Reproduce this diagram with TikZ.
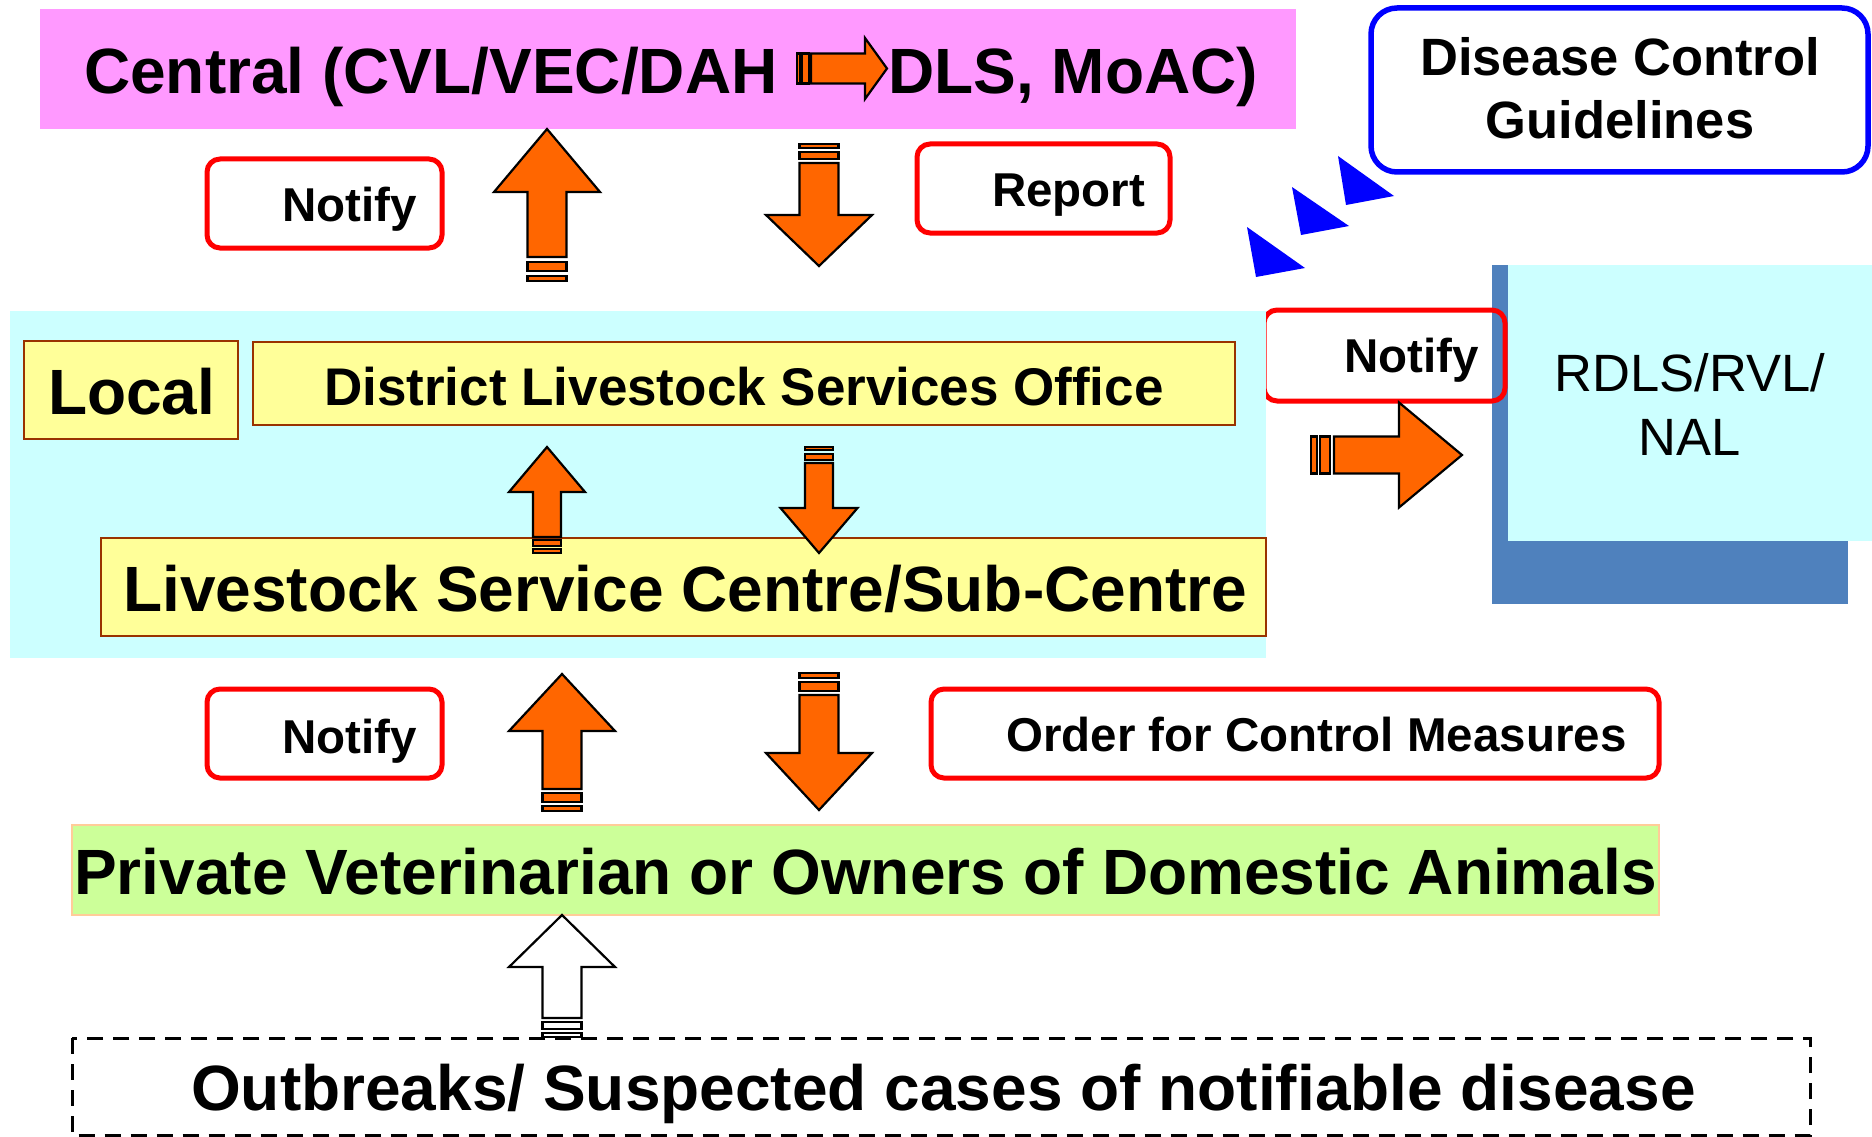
\documentclass[tikz,border=0pt]{standalone}
\usepackage{fontspec}
\setmainfont{Liberation Sans}
\definecolor{pinkbg}{HTML}{FF99FF}
\definecolor{cyanbg}{HTML}{CCFFFF}
\definecolor{yelbg}{HTML}{FFFF99}
\definecolor{brownln}{HTML}{993300}
\definecolor{greenbg}{HTML}{CCFF99}
\definecolor{greenln}{HTML}{FFCC99}
\definecolor{orangefill}{HTML}{FF6600}
\definecolor{steel}{HTML}{4F81BD}
\definecolor{pureblue}{HTML}{0000FF}
\definecolor{purered}{HTML}{FF0000}
% striped block arrow, tip at local origin, pointing along +x
% #1 head length, #2 head half width, #3 shaft half width, #4 shaft end
% #5 #6 stripe one (distances from tip), #7 #8 stripe two
\newcommand{\StripedArrow}[8]{%
  \path[arrowshape] (0,0) -- (-#1,#2) -- (-#1,#3) -- (-#4,#3) -- (-#4,-#3)
     -- (-#1,-#3) -- (-#1,-#2) -- cycle;
  \path[arrowshape] (-#5,#3) rectangle (-#6,-#3);
  \path[arrowshape] (-#7,#3) rectangle (-#8,-#3);
}
\begin{document}
\begin{tikzpicture}[x=1pt,y=-1pt,
  arrowshape/.style={draw=black,line width=2.2pt,line join=miter,fill=orangefill},
  redbox/.style={draw=purered,line width=5pt,rounded corners=13pt},
  yelbox/.style={fill=yelbg,draw=brownln,line width=1.8pt},
  bigtxt/.style={font=\bfseries\fontsize{64}{77}\selectfont,inner sep=0pt,anchor=base west},
  lbltxt/.style={font=\bfseries\fontsize{47.5}{57}\selectfont,inner sep=0pt,anchor=base west},
  midtxt/.style={font=\bfseries\fontsize{53}{64}\selectfont,inner sep=0pt,anchor=base west},
  dctxt/.style={font=\bfseries\fontsize{52.5}{63}\selectfont,inner sep=0pt,anchor=base},
  rdtxt/.style={font=\fontsize{52.5}{63}\selectfont,inner sep=0pt,anchor=base},
  tri/.style={fill=pureblue,draw=none}]
\useasboundingbox (0,0) rectangle (1872,1137);
\fill[white] (0,0) rectangle (1872,1137);

% ---------- central ----------
\fill[pinkbg] (40,9) rectangle (1296,129);
\node[bigtxt] (central1) at (84,94) {Central (CVL/VEC/DAH};
\node[bigtxt] (central2) at (888,94) {DLS, MoAC)};
\begin{scope}[shift={(887,68.5)}]
  \StripedArrow{22}{30.5}{15}{76}{78}{85}{87}{90}
\end{scope}

% ---------- disease control guidelines ----------
\draw[draw=pureblue,line width=5.5pt,rounded corners=26pt] (1371,8) rectangle (1868,172);
\node[dctxt] (dc1) at (1620,76) {Disease Control};
\node[dctxt] (dc2) at (1620,139) {Guidelines};
\path[tri] (1247,227) -- (1256,277) -- (1305,268) -- cycle;
\path[tri] (1292,187) -- (1301,235) -- (1349,226) -- cycle;
\path[tri] (1338,156) -- (1346,205) -- (1394,196) -- cycle;

% ---------- upper labels and arrows ----------
\draw[redbox] (207,159) rectangle (442,248);
\node[lbltxt] (notify1) at (282,222) {Notify};
\draw[redbox] (917,144) rectangle (1170,233);
\node[lbltxt] (report) at (992,207) {Report};
\begin{scope}[shift={(547,129)},rotate=90]
  \StripedArrow{63}{53}{19.5}{128}{133}{142}{147}{152}
\end{scope}
\begin{scope}[shift={(819,266)},rotate=-90]
  \StripedArrow{51}{53}{19.5}{103}{107}{114}{118}{122}
\end{scope}

% ---------- regional lab ----------
\fill[steel] (1492,265) rectangle (1848,604);
\fill[cyanbg] (1508,265) rectangle (1872,541);
\node[rdtxt] (rdls1) at (1690,391) {RDLS/RVL/};
\node[rdtxt] (rdls2) at (1690,455) {NAL};
\draw[redbox] (1264,310) rectangle (1505,401);
\node[lbltxt] (notify2) at (1344,372) {Notify};
\begin{scope}[shift={(1462,455)}]
  \StripedArrow{63}{52.5}{18.5}{128}{132}{142}{145}{151}
\end{scope}

% ---------- local ----------
\fill[cyanbg] (10,311) rectangle (1266,658);
\draw[yelbox] (24,341) rectangle (238,439);
\node[bigtxt] (local) at (48,414) {Local};
\draw[yelbox] (253,342) rectangle (1235,425);
\node[midtxt] (district) at (324,405) {District Livestock Services Office};
\draw[yelbox] (101,538) rectangle (1266,636);
\node[bigtxt] (centre) at (123,611) {Livestock Service Centre/Sub-Centre};
\begin{scope}[shift={(547,447)},rotate=90]
  \StripedArrow{45}{38}{14}{90}{93}{99}{102}{106}
\end{scope}
\begin{scope}[shift={(819,553)},rotate=-90]
  \StripedArrow{45}{38.5}{14}{90}{93}{99}{103}{106}
\end{scope}

% ---------- lower labels and arrows ----------
\draw[redbox] (207,689) rectangle (442,778);
\node[lbltxt] (notify3) at (282,753) {Notify};
\draw[redbox] (931,689) rectangle (1659,778);
\node[lbltxt] (order) at (1006,751) {Order for Control Measures};
\begin{scope}[shift={(562,674)},rotate=90]
  \StripedArrow{57}{53}{19.5}{115}{119}{128}{132}{137}
\end{scope}
\begin{scope}[shift={(819,810)},rotate=-90]
  \StripedArrow{57}{53}{19.5}{115}{119}{128}{132}{137}
\end{scope}

% ---------- private vets ----------
\draw[fill=greenbg,draw=greenln,line width=2.5pt] (72,825) rectangle (1659,915);
\node[bigtxt] (private) at (74,894) {Private Veterinarian or Owners of Domestic Animals};

% ---------- outbreaks ----------
\draw[line width=3pt,dash pattern=on 16pt off 10pt] (72,1038) rectangle (1810,1135.5);
\node[bigtxt] (outbreak) at (191,1110) {Outbreaks/ Suspected cases of notifiable disease};
\begin{scope}[shift={(562,915)},rotate=90,arrowshape/.append style={fill=white}]
  \StripedArrow{52}{53}{19.5}{103}{107}{114}{118}{122}
\end{scope}
\end{tikzpicture}
\end{document}
